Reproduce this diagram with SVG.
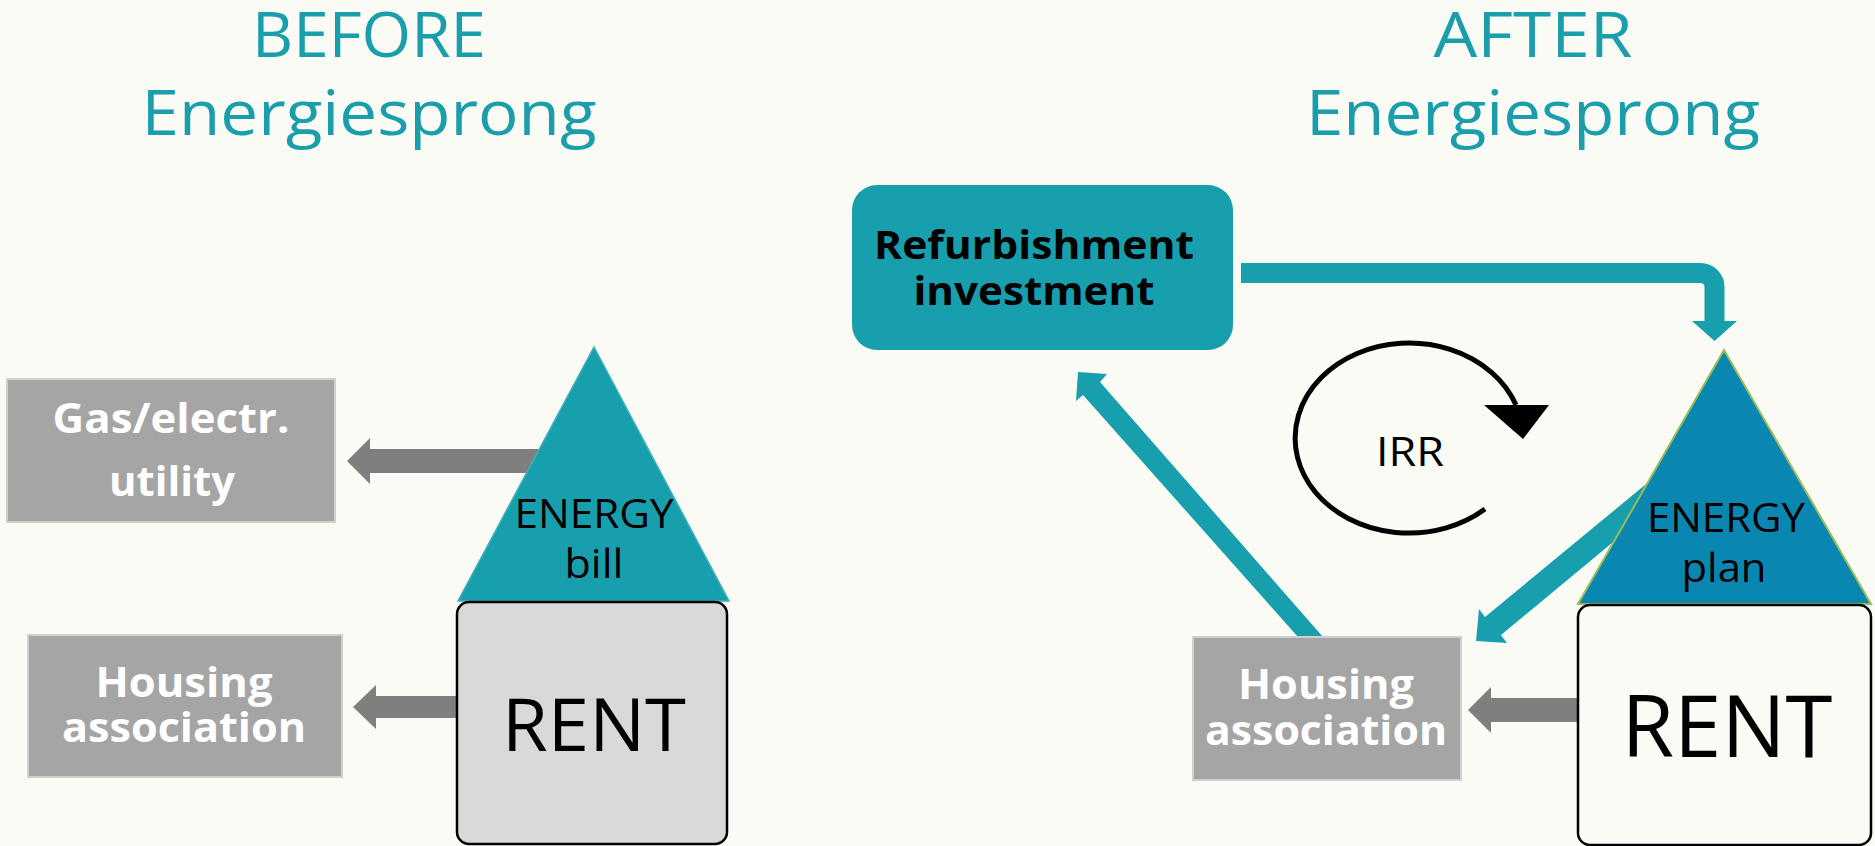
<svg xmlns="http://www.w3.org/2000/svg" width="1875" height="846" viewBox="0 0 1875 846">
  <defs>
    <style>
      .title { font-family: "Open Sans", "Liberation Sans", sans-serif; font-size: 62px; fill: #1A9EAC; text-anchor: middle; }
      .gray-box { fill: #A5A5A5; stroke: #CFCFCF; stroke-width: 2; }
      .gray-label { font-family: "Open Sans", "Liberation Sans", sans-serif; font-size: 42px; font-weight: bold; fill: #FFFFFF; text-anchor: middle; }
      .dark-label { font-family: "Open Sans", "Liberation Sans", sans-serif; font-size: 41px; fill: #000000; text-anchor: middle; }
      .rent-label { font-family: "Open Sans", "Liberation Sans", sans-serif; fill: #000000; text-anchor: middle; }
      .refurb-label { font-family: "Open Sans", "Liberation Sans", sans-serif; font-size: 40px; font-weight: bold; fill: #000000; text-anchor: middle; }
      .gray-arrow { fill: #7F7F7F; }
      .teal-arrow { fill: #189FAD; }
    </style>
  </defs>

  <rect x="0" y="0" width="1875" height="846" fill="#FAFBF5"/>

  <!-- Headings -->
  <g id="title-before">
    <text class="title" x="369" y="57" textLength="234" lengthAdjust="spacingAndGlyphs">BEFORE</text>
    <text class="title" x="369" y="135" textLength="455" lengthAdjust="spacingAndGlyphs">Energiesprong</text>
  </g>
  <g id="title-after">
    <text class="title" x="1533" y="57" textLength="199" lengthAdjust="spacingAndGlyphs">AFTER</text>
    <text class="title" x="1533" y="135" textLength="454" lengthAdjust="spacingAndGlyphs">Energiesprong</text>
  </g>

  <!-- Connectors -->
  <g id="connectors">
    <!-- before: energy bill to utility, rent to housing association -->
    <polygon class="gray-arrow" points="347,461 370,438 370,449 560,449 560,473 370,473 370,484"/>
    <polygon class="gray-arrow" points="353,707 376,685 376,696 460,696 460,718 376,718 376,729"/>
    <!-- after: rent to housing association -->
    <polygon class="gray-arrow" points="1468,710 1491,687 1491,698 1580,698 1580,722 1491,722 1491,733"/>
    <!-- investment to energy plan -->
    <path d="M 1241 273 H 1700 A 14 14 0 0 1 1714.5 287 V 322" fill="none" stroke="#189FAD" stroke-width="20"/>
    <polygon class="teal-arrow" points="1692,321 1737,321 1714.5,341"/>
    <!-- housing association back to investment -->
    <polygon class="teal-arrow" points="1078,372 1107,374 1100,382 1323,637 1298,637 1083,395 1076,401"/>
    <!-- energy plan to housing association -->
    <polygon class="teal-arrow" points="1680,456 1485,617 1479,609 1476,641 1507,643 1501,635 1700,470"/>
    <!-- IRR loop -->
    <path d="M 1485 509 A 114 95 0 1 1 1516 405" fill="none" stroke="#000000" stroke-width="5"/>
    <polygon fill="#000000" points="1484,405 1549,405 1523,439"/>
    <text class="dark-label" x="1410" y="466" font-size="40" textLength="68" lengthAdjust="spacingAndGlyphs">IRR</text>
  </g>

  <!-- BEFORE side -->
  <g id="gas-utility">
    <rect class="gray-box" x="7" y="379" width="328" height="143"/>
    <text class="gray-label" x="171" y="433" textLength="237" lengthAdjust="spacingAndGlyphs">Gas/electr.</text>
    <text class="gray-label" x="172" y="496" textLength="126" lengthAdjust="spacingAndGlyphs">utility</text>
  </g>
  <g id="housing-before">
    <rect class="gray-box" x="28" y="635" width="314" height="142"/>
    <text class="gray-label" x="184" y="697" textLength="177" lengthAdjust="spacingAndGlyphs">Housing</text>
    <text class="gray-label" x="184" y="742" textLength="244" lengthAdjust="spacingAndGlyphs">association</text>
  </g>
  <g id="energy-bill">
    <polygon points="594,347 729,601 458,601" fill="#189FAD" stroke="#3FB0BC" stroke-width="1.5"/>
    <text class="dark-label" x="594" y="528" textLength="159" lengthAdjust="spacingAndGlyphs">ENERGY</text>
    <text class="dark-label" x="594" y="578" textLength="59" lengthAdjust="spacingAndGlyphs">bill</text>
  </g>
  <g id="rent-before">
    <rect x="457" y="602" width="270" height="242" rx="12" fill="#D9D9D9" stroke="#000000" stroke-width="2.5"/>
    <text class="rent-label" x="594" y="751" font-size="74" textLength="184" lengthAdjust="spacingAndGlyphs">RENT</text>
  </g>

  <!-- AFTER side -->
  <g id="refurbishment">
    <rect x="852" y="185" width="381" height="165" rx="25" fill="#189FAD"/>
    <text class="refurb-label" x="1034" y="259" textLength="320" lengthAdjust="spacingAndGlyphs">Refurbishment</text>
    <text class="refurb-label" x="1034" y="305" textLength="241" lengthAdjust="spacingAndGlyphs">investment</text>
  </g>
  <g id="housing-after">
    <rect class="gray-box" x="1193" y="637" width="268" height="143"/>
    <text class="gray-label" x="1326" y="699" textLength="176" lengthAdjust="spacingAndGlyphs">Housing</text>
    <text class="gray-label" x="1326" y="745" textLength="242" lengthAdjust="spacingAndGlyphs">association</text>
  </g>
  <g id="energy-plan">
    <polygon points="1724,350 1871,604 1578,604" fill="#0A87B0" stroke="#9BBB59" stroke-width="2"/>
    <text class="dark-label" x="1726" y="532" textLength="158" lengthAdjust="spacingAndGlyphs">ENERGY</text>
    <text class="dark-label" x="1724" y="582" textLength="85" lengthAdjust="spacingAndGlyphs">plan</text>
  </g>
  <g id="rent-after">
    <rect x="1578" y="605" width="293" height="240" rx="12" fill="#FAFBF5" stroke="#000000" stroke-width="2.5"/>
    <text class="rent-label" x="1727" y="757" font-size="86" textLength="211" lengthAdjust="spacingAndGlyphs">RENT</text>
  </g>
</svg>
